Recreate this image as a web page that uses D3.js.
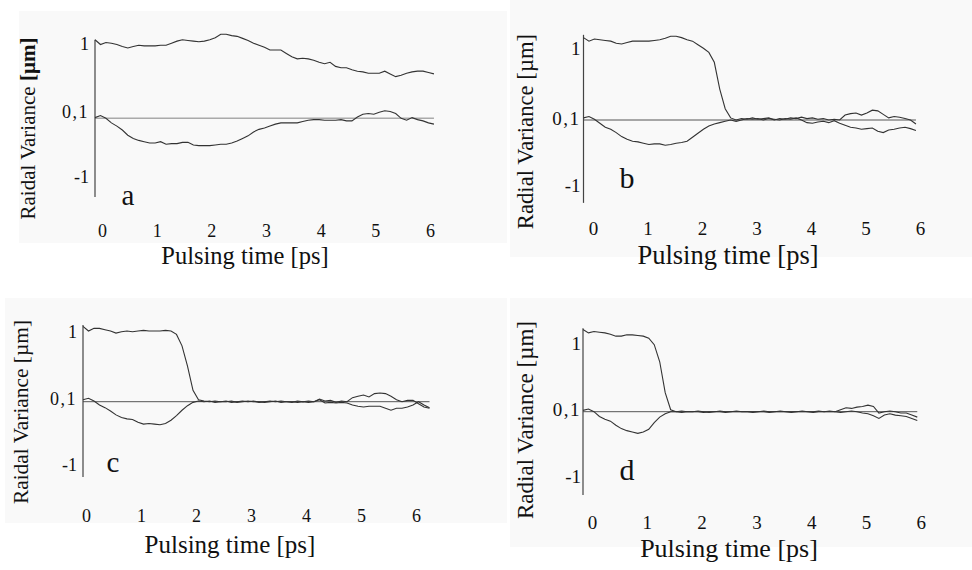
<!DOCTYPE html>
<html>
<head>
<meta charset="utf-8">
<script src="https://cdn.jsdelivr.net/npm/d3@7"></script>
<style>
	body { margin: 0; background: #fff; }
	svg { display: block; }
	text { font-family: "Liberation Serif", "Times New Roman", serif; fill: #111; }
</style>
</head>
<body>
<div id="chart"></div>
<script>
// sample grid, ps
const time = [0, 0.1, 0.2, 0.3, 0.4, 0.5, 0.6, 0.7, 0.8, 0.9,
	1.0, 1.1, 1.2, 1.3, 1.4, 1.5, 1.6, 1.7, 1.8, 1.9,
	2.0, 2.1, 2.2, 2.3, 2.4, 2.5, 2.6, 2.7, 2.8, 2.9,
	3.0, 3.1, 3.2, 3.3, 3.4, 3.5, 3.6, 3.7, 3.8, 3.9,
	4.0, 4.1, 4.2, 4.3, 4.4, 4.5, 4.6, 4.7, 4.8, 4.9,
	5.0, 5.1, 5.2, 5.3, 5.4, 5.5, 5.6, 5.7, 5.8, 5.9,
	6.0, 6.1, 6.2, 6.3]

const xTicks = [0, 1, 2, 3, 4, 5, 6]
const yTicks = [1, 0, -1]
const yTickLabels = ["1", "0,1", "-1"]
const xTitle = "Pulsing time [ps]"
const yTitles = ["Raidal Variance ", "Radial Variance ", "Raidal Variance ", "Radial Variance "]
const yUnit = "[µm]"
const letters = ["a", "b", "c", "d"]

// panel a
const upperA = [1.15, 1.08, 1.11, 1.10, 1.08, 1.05, 1.03, 1.05, 1.07, 1.06,
	1.06, 1.06, 1.07, 1.07, 1.10, 1.13, 1.15, 1.14, 1.13, 1.12,
	1.13, 1.15, 1.18, 1.23, 1.23, 1.21, 1.20, 1.17, 1.14, 1.10,
	1.07, 1.04, 1.00, 1.00, 1.00, 0.95, 0.90, 0.87, 0.88, 0.87,
	0.85, 0.82, 0.80, 0.82, 0.76, 0.74, 0.74, 0.71, 0.69, 0.68,
	0.66, 0.66, 0.66, 0.69, 0.65, 0.61, 0.63, 0.66, 0.68, 0.69,
	0.69, 0.67, 0.65]
const lowerA = [0.01, 0.04, 0.00, -0.07, -0.12, -0.18, -0.26, -0.31, -0.34, -0.36,
	-0.38, -0.38, -0.36, -0.40, -0.39, -0.39, -0.37, -0.37, -0.41, -0.42,
	-0.42, -0.42, -0.41, -0.40, -0.40, -0.38, -0.35, -0.31, -0.27, -0.21,
	-0.17, -0.15, -0.12, -0.09, -0.07, -0.07, -0.07, -0.07, -0.05, -0.03,
	-0.02, -0.02, -0.03, -0.03, -0.03, -0.02, -0.04, -0.04, 0.02, 0.06,
	0.07, 0.06, 0.09, 0.11, 0.10, 0.07, 0.00, -0.03, 0.01, -0.02,
	-0.04, -0.07, -0.09]

// panel b
const upperB = [1.17, 1.12, 1.15, 1.14, 1.13, 1.12, 1.09, 1.08, 1.10, 1.12,
	1.12, 1.12, 1.12, 1.13, 1.14, 1.16, 1.19, 1.19, 1.17, 1.14,
	1.12, 1.07, 1.02, 0.96, 0.82, 0.44, 0.16, 0.03, 0.00, 0.02,
	0.01, 0.03, 0.01, 0.02, 0.03, 0.00, 0.02, 0.01, 0.03, 0.02,
	0.04, 0.02, 0.03, 0.01, 0.02, 0.00, 0.01, 0.00, 0.07, 0.09,
	0.10, 0.07, 0.10, 0.14, 0.13, 0.08, 0.03, 0.05, 0.04, 0.02,
	0.00, -0.06]
const lowerB = [0.03, 0.05, 0.01, -0.05, -0.11, -0.14, -0.19, -0.25, -0.29, -0.32,
	-0.33, -0.35, -0.37, -0.36, -0.36, -0.38, -0.37, -0.35, -0.34, -0.32,
	-0.26, -0.20, -0.14, -0.09, -0.06, -0.04, -0.02, 0.00, -0.02, 0.00,
	0.02, 0.01, 0.02, 0.00, 0.02, 0.01, 0.00, 0.02, 0.01, 0.03,
	0.00, -0.04, -0.05, -0.03, -0.02, -0.04, -0.01, -0.05, -0.08, -0.11,
	-0.12, -0.14, -0.13, -0.12, -0.17, -0.19, -0.15, -0.14, -0.12, -0.11,
	-0.13, -0.16]

// panel c
const upperC = [1.12, 1.05, 1.09, 1.09, 1.07, 1.05, 1.02, 1.04, 1.05, 1.04,
	1.05, 1.06, 1.05, 1.05, 1.05, 1.06, 1.05, 1.00, 0.83, 0.53,
	0.17, 0.03, 0.01, 0.00, 0.01, 0.00, 0.01, -0.01, 0.00, 0.01,
	0.00, 0.01, -0.01, 0.00, 0.01, 0.00, 0.01, 0.00, -0.01, 0.01,
	0.00, 0.01, 0.00, 0.04, 0.01, 0.02, -0.01, 0.01, 0.00, 0.06,
	0.08, 0.10, 0.07, 0.12, 0.13, 0.12, 0.08, 0.03, 0.00, 0.02,
	0.02, -0.03, -0.08, -0.10]
const lowerC = [0.03, 0.05, 0.01, -0.05, -0.09, -0.14, -0.20, -0.24, -0.26, -0.27,
	-0.31, -0.34, -0.33, -0.34, -0.35, -0.33, -0.28, -0.21, -0.13, -0.06,
	-0.01, 0.01, 0.00, 0.01, -0.01, 0.00, 0.00, 0.01, -0.01, 0.00,
	0.01, 0.00, 0.00, -0.01, 0.00, 0.01, -0.01, 0.00, 0.00, -0.01,
	0.00, -0.01, 0.00, 0.03, -0.02, -0.01, -0.02, -0.01, -0.02, -0.05,
	-0.07, -0.08, -0.07, -0.07, -0.07, -0.10, -0.13, -0.10, -0.10, -0.08,
	-0.05, 0.00, -0.05, -0.09]

// panel d
const upperD = [1.25, 1.20, 1.22, 1.21, 1.20, 1.18, 1.15, 1.15, 1.17, 1.17,
	1.16, 1.15, 1.12, 1.02, 0.76, 0.29, 0.03, 0.00, 0.01, 0.00,
	0.00, 0.01, 0.00, -0.01, 0.00, 0.01, 0.00, 0.00, 0.01, 0.00,
	0.00, -0.01, 0.00, 0.01, 0.00, 0.00, 0.01, 0.00, -0.01, 0.00,
	0.01, 0.00, 0.00, 0.01, 0.00, 0.01, 0.00, 0.03, 0.06, 0.05,
	0.07, 0.08, 0.10, 0.08, -0.02, 0.00, 0.01, 0.00, -0.02, -0.02,
	-0.05, -0.08]
const lowerD = [0.02, 0.04, 0.00, -0.07, -0.11, -0.14, -0.20, -0.25, -0.28, -0.30,
	-0.32, -0.30, -0.26, -0.16, -0.08, -0.03, 0.00, 0.00, -0.01, 0.00,
	0.00, 0.00, -0.01, 0.00, 0.00, 0.00, -0.01, 0.00, 0.00, 0.00,
	0.00, 0.00, 0.00, 0.00, -0.01, 0.00, 0.00, 0.00, 0.00, 0.00,
	0.00, 0.00, -0.01, 0.00, 0.00, 0.00, 0.00, -0.01, 0.00, 0.01,
	0.00, -0.02, -0.03, -0.06, -0.10, -0.05, -0.03, -0.05, -0.06, -0.07,
	-0.10, -0.13]

const series = [[upperA, lowerA], [upperB, lowerB], [upperC, lowerC], [upperD, lowerD]]

// layout of the four panels (pixels)
const panels = [
	{bg: [19, 11, 488, 232], x0: 95, pps: 54.67, yr: [183.3, 118.3, 50], axis: [-1.21, 1.15],
		xLab: 231, xDx: 7, yDy: -6.6, yGap: 6, tick: 18, title: [245, 264, 24.5],
		ylab: [28, 128.5, 21], letter: [128, 205, 29], boldUnit: true, ref: ["#aaa", 1.6]},
	{bg: [510, 0, 462, 257], x0: 583.5, pps: 54.5, yr: [186.3, 120, 49.6], axis: [-1.25, 1.21],
		xLab: 229, xDx: 9.5, yDy: -1.3, yGap: 3, tick: 19, title: [728, 264, 26.5],
		ylab: [525, 131.5, 22.7], letter: [627, 188, 30], boldUnit: false, ref: ["#555", 1]},
	{bg: [5, 298, 502, 225], x0: 83, pps: 55, yr: [467.7, 401.7, 334.4], axis: [-1.14, 1.14],
		xLab: 516, xDx: 3, yDy: -2.7, yGap: 6, tick: 18, title: [230, 553, 25],
		ylab: [21, 412, 21.4], letter: [113, 472, 29], boldUnit: false, ref: ["#555", 1]},
	{bg: [510, 298, 462, 249], x0: 583, pps: 54.8, yr: [479.4, 411.7, 346], axis: [-1.23, 1.27],
		xLab: 523, xDx: 9, yDy: -2.7, yGap: 2, tick: 19, title: [729, 557, 26],
		ylab: [525, 420, 23], letter: [627, 480, 30], boldUnit: false, ref: ["#555", 1]}
]

const svg = d3.select("#chart")
	.append("svg")
		.attr("width", 972)
		.attr("height", 570)

panels.forEach(function(p, k) {
	const g = svg.append("g")

	g.append("rect")
		.attr("x", p.bg[0]).attr("y", p.bg[1])
		.attr("width", p.bg[2]).attr("height", p.bg[3])
		.attr("fill", "#f9f9f9")

	const x = d3.scaleLinear()
		.domain([0, 6])
		.range([p.x0, p.x0 + 6 * p.pps])
	const y = d3.scaleLinear()
		.domain([-1, 0, 1])
		.range(p.yr)

	// x tick labels
	g.append("g")
		.attr("transform", `translate(${p.xDx},${p.xLab - 0.37 * p.tick})`)
		.call(d3.axisBottom(x).tickValues(xTicks).tickFormat(d3.format("d")).tickSize(0).tickPadding(0))
		.call(a => a.select(".domain").remove())
		.selectAll("text")
			.attr("font-size", p.tick)
			.attr("font-family", "Liberation Serif, serif")

	// y tick labels
	g.append("g")
		.attr("transform", `translate(${p.x0 - p.yGap},${p.yDy})`)
		.call(d3.axisLeft(y).tickValues(yTicks).tickFormat((d, i) => yTickLabels[i]).tickSize(0).tickPadding(0))
		.call(a => a.select(".domain").remove())
		.selectAll("text")
			.attr("font-size", p.tick)
			.attr("font-family", "Liberation Serif, serif")
			.attr("letter-spacing", d => d == 0 ? 1.5 : 0)

	const [up, low] = series[k]
	const tEnd = time[up.length - 1]

	// reference line at 0,1
	g.append("line")
		.attr("x1", x(0)).attr("x2", x(tEnd))
		.attr("y1", y(0)).attr("y2", y(0))
		.attr("stroke", p.ref[0])
		.attr("stroke-width", p.ref[1])

	// vertical axis line
	g.append("line")
		.attr("x1", x(0)).attr("x2", x(0))
		.attr("y1", y(p.axis[0])).attr("y2", y(p.axis[1]))
		.attr("stroke", "#444")
		.attr("stroke-width", 1.2)

	const line = d3.line()
		.x((d, i) => x(time[i]))
		.y(d => y(d))

	;[up, low].forEach(function(s) {
		g.append("path")
			.datum(s)
			.attr("fill", "none")
			.attr("stroke", "#333")
			.attr("stroke-width", 1.1)
			.attr("d", line)
	})

	// x title
	g.append("text")
		.attr("x", p.title[0]).attr("y", p.title[1])
		.attr("text-anchor", "middle")
		.attr("font-size", p.title[2])
		.text(xTitle)

	// y title
	const yt = g.append("text")
		.attr("transform", `translate(${p.ylab[0]},${p.ylab[1]}) rotate(-90)`)
		.attr("text-anchor", "middle")
		.attr("dominant-baseline", "central")
		.attr("font-size", p.ylab[2])
	yt.append("tspan").text(yTitles[k])
	yt.append("tspan")
		.attr("font-weight", p.boldUnit ? "bold" : "normal")
		.text(yUnit)

	// panel letter
	g.append("text")
		.attr("x", p.letter[0]).attr("y", p.letter[1])
		.attr("text-anchor", "middle")
		.attr("font-size", p.letter[2])
		.text(letters[k])
})
</script>
</body>
</html>
